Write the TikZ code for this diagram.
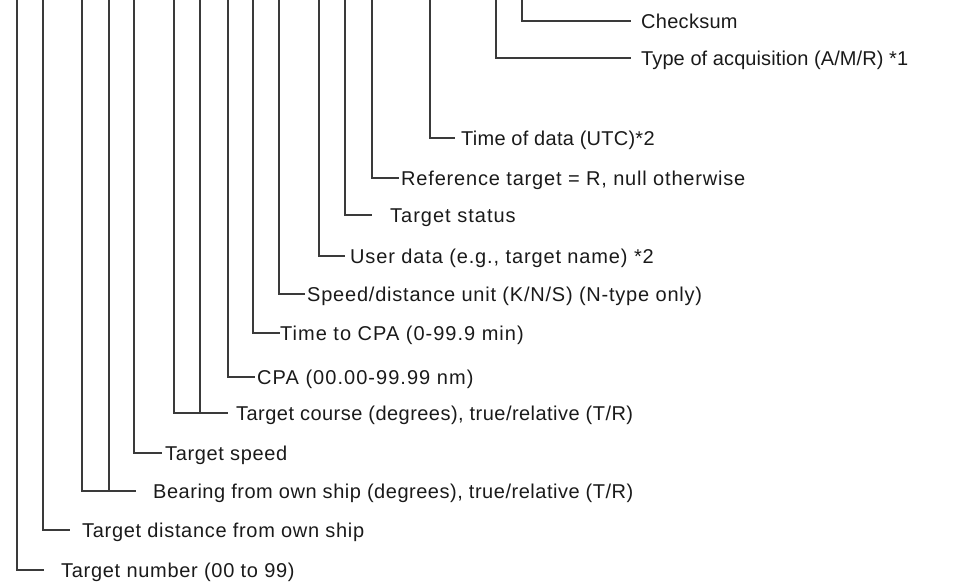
\documentclass[tikz,border=0pt]{standalone}
\usepackage{fontspec}
\setmainfont{Liberation Sans}
\definecolor{linec}{HTML}{3A3A3A}
\definecolor{textc}{HTML}{1A1A1A}
\newcommand{\lspc}[2]{{\addfontfeature{LetterSpace=#1}#2}}
\begin{document}
\begin{tikzpicture}[x=1pt,y=-1pt,
  lead/.style={draw=linec,line width=1.3pt},
  lbl/.style={anchor=base west,inner sep=0pt,text=textc,font=\fontsize{20}{24}\selectfont}]
\useasboundingbox (0,0) rectangle (961,587);
% labels
\node[lbl] (l1) at (641,28) {\lspc{1.4}{Checksum}};
\node[lbl] (l2) at (641,65) {\lspc{0.5}{Type of acquisition (A/M/R) *1}};
\node[lbl] (l3) at (461,145) {\lspc{1.3}{Time of data (UTC)*2}};
\node[lbl] (l4) at (401,185) {\lspc{4.1}{Reference target = R, null otherwise}};
\node[lbl] (l5) at (390,222) {\lspc{5}{Target status}};
\node[lbl] (l6) at (350,263) {\lspc{4.3}{User data (e.g., target name) *2}};
\node[lbl] (l7) at (307,301) {\lspc{3.9}{Speed/distance unit (K/N/S) (N-type only)}};
\node[lbl] (l8) at (280,340) {\lspc{5}{Time to CPA (0-99.9 min)}};
\node[lbl] (l9) at (257,384) {\lspc{5.2}{CPA (00.00-99.99 nm)}};
\node[lbl] (l10) at (236,420) {\lspc{2.3}{Target course (degrees), true/relative (T/R)}};
\node[lbl] (l11) at (165,460) {\lspc{3.2}{Target speed}};
\node[lbl] (l12) at (153,498) {\lspc{2.6}{Bearing from own ship (degrees), true/relative (T/R)}};
\node[lbl] (l13) at (82,537) {\lspc{3.4}{Target distance from own ship}};
\node[lbl] (l14) at (61,577) {\lspc{3.5}{Target number (00 to 99)}};
% top points and line ends
\coordinate (t1) at (522,-2);  \coordinate (e1) at (631,21);
\coordinate (t2) at (496,-2);  \coordinate (e2) at (631,58);
\coordinate (t3) at (430,-2);  \coordinate (e3) at (455,138);
\coordinate (t4) at (372,-2);  \coordinate (e4) at (399,178);
\coordinate (t5) at (345,-2);  \coordinate (e5) at (372,215);
\coordinate (t6) at (319,-2);  \coordinate (e6) at (345,256);
\coordinate (t7) at (279,-2);  \coordinate (e7) at (305,294);
\coordinate (t8) at (253,-2);  \coordinate (e8) at (280,333);
\coordinate (t9) at (228,-2);  \coordinate (e9) at (255,377);
\coordinate (t10a) at (174,-2); \coordinate (t10b) at (200,-2); \coordinate (e10) at (228,413);
\coordinate (t11) at (134,-2); \coordinate (e11) at (162,453);
\coordinate (t12a) at (82,-2); \coordinate (t12b) at (109,-2); \coordinate (e12) at (136,491);
\coordinate (t13) at (43,-2);  \coordinate (e13) at (70,530);
\coordinate (t14) at (17,-2);  \coordinate (e14) at (44,570);
% leader lines
\foreach \i in {1,...,9,11,13,14}{
  \draw[lead] (t\i) |- (e\i);
}
\draw[lead] (t10a) |- (e10);
\draw[lead] (t10b) -- (t10b |- e10);
\draw[lead] (t12a) |- (e12);
\draw[lead] (t12b) -- (t12b |- e12);
\end{tikzpicture}
\end{document}
